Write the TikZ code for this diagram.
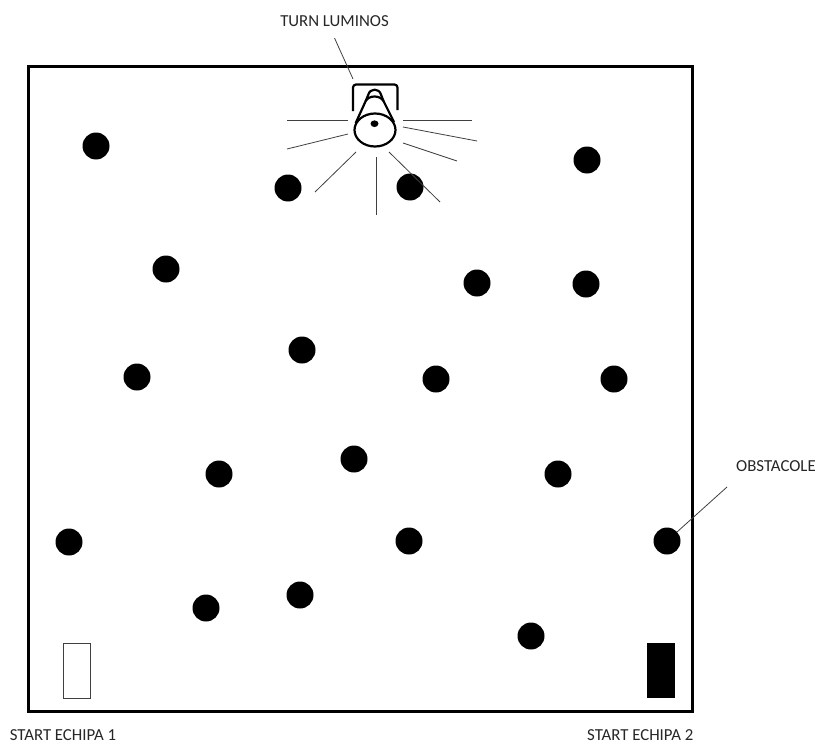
\documentclass[tikz,border=0pt]{standalone}
\usepackage{xcolor}
\usepackage{fontspec}
\setmainfont{Carlito}
\usepackage{tikz}
\usetikzlibrary{positioning, shapes.geometric}
\definecolor{labelcolor}{HTML}{262626}
\definecolor{raycolor}{HTML}{404040}

\begin{document}
\begin{tikzpicture}[x=1pt, y=-1pt,
    obstacle/.style={circle, fill=black, minimum size=27pt, inner sep=0pt},
    startbox/.style={rectangle, minimum width=27pt, minimum height=55pt, inner sep=0pt},
    lbl/.style={font=\fontsize{16.8pt}{19pt}\selectfont, text=labelcolor, inner sep=0pt},
    ray/.style={draw=raycolor, line width=0.8pt},
    lamp/.style={draw=black, line width=2.2pt, line join=round}
]
    \useasboundingbox (0,0) rectangle (817,744);

    % Field
    \node[rectangle, draw=black, line width=3pt, minimum width=664pt, minimum height=645pt,
          inner sep=0pt] (field) at (360.3,388.5) {};

    % Obstacles
    \foreach \px/\py/\nm in {96/146/a, 288/188/b, 410/187/c, 587/160/d, 166/269/e,
        477/283/f, 586/284/g, 302/350/h, 137/377/i, 436/379/j, 614/379/k, 219/474/l,
        354/459/m, 558/474/n, 69/542/o, 409/541/p, 667/541/q, 206/608/r, 300/595/s, 531/636/t}
        \node[obstacle] (ob\nm) at (\px,\py) {};

    % Start zones
    \node[startbox, draw=black!75, line width=0.7pt] (start1) at (76.8,670.5) {};
    \node[startbox, fill=black, minimum width=28pt] (start2) at (661,670.5) {};

    % Lamp
    \node[ellipse, lamp, minimum width=41pt, minimum height=33pt, inner sep=0pt] (lampbase) at (375,130) {};
    \draw[lamp, rounded corners=3pt] (353,111) -- (353,84.5) -- (397.5,84.5) -- (397.5,110);
    \draw[lamp] (355.7,123) -- (365.7,101) .. controls (369,95) and (380,95) .. (383.5,101) -- (394,122);
    \draw[lamp] (365.7,101) -- (368.3,94.7) .. controls (370,88) and (379.5,88) .. (381,94.7) -- (383.5,101);
    \node[ellipse, fill=black, minimum width=8pt, minimum height=6.7pt, inner sep=0pt] (lampdot) at (374.5,123.7) {};

    % Rays
    \foreach \xa/\ya/\xb/\yb in {348/120/287/120, 348/134/287/149, 356/152/315/192,
        376/157/376/215, 389/152/440/202, 403/143/457/161, 403/127/477/141, 403/120/472/120}
        \draw[ray] (\xa,\ya) -- (\xb,\yb);

    % Labels
    \node[lbl] (lamplabel) at (334.5,21) {TURN LUMINOS};
    \node[lbl] (oblabel) at (776,466.5) {OBSTACOLE};
    \node[lbl] (s1label) at (63,735.5) {START ECHIPA 1};
    \node[lbl] (s2label) at (640.3,735.5) {START ECHIPA 2};

    \coordinate (lampend) at (334.5,38);
    \coordinate (lamptip) at (353,79);
    \coordinate (obend) at (727,487);
    \draw[ray] (lampend) -- (lamptip);
    \draw[ray] (obend) -- (obq);
\end{tikzpicture}
\end{document}
